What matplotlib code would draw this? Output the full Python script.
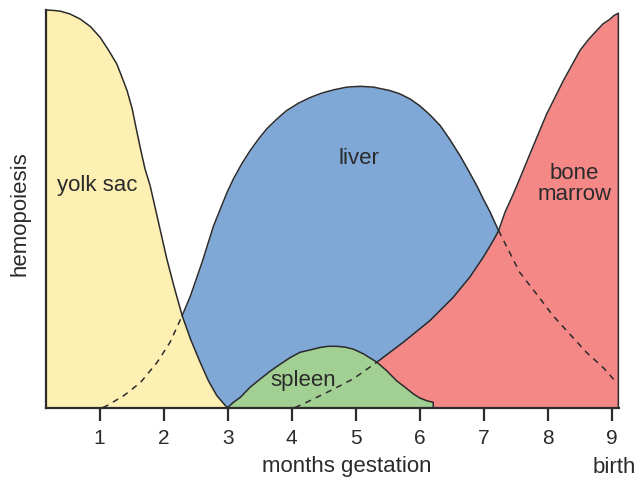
import matplotlib.pyplot as plt

# 各造血器官の曲線 (月, 相対量) - 図から読み取った値
yolk_x = [0.164, 0.28, 0.39, 0.54, 0.70, 0.86, 1.01, 1.14, 1.27, 1.35, 1.43, 1.51, 1.58,
          1.64, 1.71, 1.79, 1.92, 2.05, 2.16, 2.29, 2.42, 2.57, 2.70, 2.83, 2.98, 3.0]
yolk_y = [100, 99.9, 99.7, 99.0, 97.7, 95.8, 93.1, 89.9, 86.4, 83.1, 79.7, 75.1, 69.6,
          65.0, 60.0, 55.8, 46.6, 37.4, 30.6, 23.1, 17.2, 11.4, 6.7, 3.0, 0.2, 0]

liver_x = [1.05, 1.12, 1.38, 1.64, 1.90, 2.10, 2.29,
           2.42, 2.60, 2.78, 2.99, 3.09, 3.22, 3.35, 3.48, 3.61, 3.77, 3.92, 4.11, 4.29, 4.47,
           4.65, 4.86, 5.07, 5.28, 5.54, 5.69, 5.85, 6.00, 6.16, 6.32, 6.47, 6.63, 6.76, 6.89,
           6.99, 7.10, 7.17, 7.23,
           7.56, 7.82, 8.08, 8.34, 8.60, 8.86, 9.07]
liver_y = [0, 0.5, 3.0, 6.3, 11.4, 16.4, 23.1,
           28.1, 36.5, 45.7, 54.1, 57.5, 61.3, 64.6, 67.5, 70.1, 72.6, 74.7, 76.6, 78.0, 79.1,
           79.9, 80.6, 80.8, 80.6, 79.7, 78.9, 77.6, 75.9, 73.6, 70.9, 67.4, 63.3, 59.6, 55.8,
           52.5, 49.1, 46.6, 44.5,
           34.0, 28.6, 23.1, 18.5, 13.9, 10.1, 6.3]
LIVER_CROSS_YOLK = 6
LIVER_CROSS_MARROW = 38

spleen_x = [3.0, 3.09, 3.2, 3.35, 3.51, 3.66, 3.82, 3.98, 4.13, 4.29, 4.44, 4.57, 4.70,
            4.83, 4.96, 5.12, 5.33, 5.48, 5.64, 5.77, 5.90, 6.00, 6.11, 6.21, 6.21]
spleen_y = [0, 1.3, 2.6, 5.1, 7.2, 9.1, 10.9, 12.6, 13.9, 14.5, 15.1, 15.4, 15.4,
            15.2, 14.7, 13.5, 11.4, 9.3, 6.7, 5.1, 3.4, 2.4, 1.7, 1.3, 0]

marrow_x = [4.05, 4.18, 4.60, 4.96, 5.33, 5.74, 6.16, 6.52, 6.78, 6.99, 7.15, 7.23, 7.33,
            7.46, 7.59, 7.72, 7.85, 7.98, 8.11, 8.24, 8.37, 8.50, 8.63, 8.76, 8.86, 8.97,
            9.03, 9.10, 9.10]
marrow_y = [0, 0.9, 4.2, 7.2, 11.4, 16.4, 21.9, 27.7, 32.8, 37.8, 42.1, 44.5, 49.1,
            53.7, 58.7, 63.8, 68.8, 73.8, 78.0, 82.2, 86.0, 89.8, 92.5, 94.8, 96.5, 97.7,
            98.6, 99.2, 0]
MARROW_CROSS_SPLEEN = 4

months = [1, 2, 3, 4, 5, 6, 7, 8, 9]

YELLOW = "#FEF0B2"
BLUE = "#80A8D7"
RED = "#F48887"
GREEN = "#A2CF92"
INK = "#2b2b2b"
DASH = (0, (4, 3.5))


def draw(ax):
    # 塗りの順番: liver -> bone marrow -> spleen -> yolk sac
    ax.fill_between(liver_x, liver_y, color=BLUE, lw=0)
    ax.fill_between(marrow_x, marrow_y, color=RED, lw=0)
    ax.fill_between(spleen_x, spleen_y, color=GREEN, lw=0)
    ax.fill_between(yolk_x, yolk_y, color=YELLOW, lw=0)

    kw = dict(color=INK, lw=1.1, clip_on=False)
    ax.plot(yolk_x, yolk_y, **kw)
    ax.plot(spleen_x, spleen_y, **kw)
    # 隠れている部分は破線
    a, b = LIVER_CROSS_YOLK, LIVER_CROSS_MARROW
    ax.plot(liver_x[:a + 1], liver_y[:a + 1], ls=DASH, **kw)
    ax.plot(liver_x[a:b + 1], liver_y[a:b + 1], **kw)
    ax.plot(liver_x[b:], liver_y[b:], ls=DASH, **kw)
    c = MARROW_CROSS_SPLEEN
    ax.plot(marrow_x[:c + 1], marrow_y[:c + 1], ls=DASH, **kw)
    ax.plot(marrow_x[c:], marrow_y[c:], **kw)

    txt = dict(fontsize=16, color=INK, ha="center", va="center")
    ax.text(0.964, 56, "yolk sac", **txt)
    ax.text(5.05, 62.8, "liver", **txt)
    ax.text(8.41, 56.4, "bone\nmarrow", linespacing=1.0, **txt)
    ax.text(4.18, 7.0, "spleen", **txt)


def main():
    plt.rcParams["font.family"] = ["Liberation Sans", "DejaVu Sans"]
    fig = plt.figure(figsize=(6.39, 4.81), dpi=100)
    ax = fig.add_axes([0.072, 0.1507, 0.8967, 0.8264])
    draw(ax)

    ax.set_xlim(0.164, 9.11)
    ax.set_ylim(0, 100)
    ax.set_xticks(months)
    ax.set_xticklabels([str(m) for m in months])
    ax.set_yticks([])
    for s in ["top", "right"]:
        ax.spines[s].set_visible(False)
    for s in ["left", "bottom"]:
        ax.spines[s].set_color(INK)
        ax.spines[s].set_linewidth(1.6)
    ax.tick_params(axis="x", length=9, width=1.6, color=INK, labelsize=15,
                   labelcolor=INK, pad=5.5)

    fig.text(347 / 639, 1 - 467 / 481, "months gestation", fontsize=16, color=INK,
             ha="center", va="center")
    fig.text(614 / 639, 1 - 468 / 481, "birth", fontsize=16, color=INK,
             ha="center", va="center")
    fig.text(20 / 639, 1 - 214 / 481, "hemopoiesis", fontsize=16, color=INK,
             ha="center", va="center", rotation=90)

    fig.savefig("out.png", dpi=100)


if __name__ == "__main__":
    main()
